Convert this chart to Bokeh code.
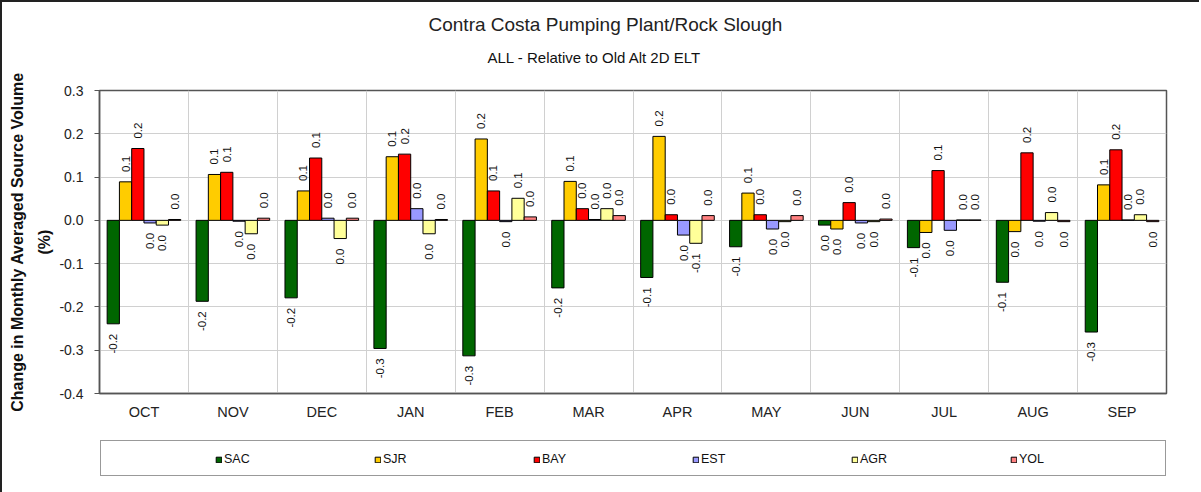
import numpy as np
from bokeh.plotting import figure
from bokeh.layouts import column
from bokeh.models import (ColumnDataSource, FixedTicker, NumeralTickFormatter, Legend,
                          LegendItem, Title, Range1d)
from bokeh.core.properties import value
from bokeh.embed import file_html
from bokeh.resources import INLINE

# ---------------- data ----------------
months = ["OCT", "NOV", "DEC", "JAN", "FEB", "MAR", "APR", "MAY", "JUN", "JUL", "AUG", "SEP"]
series_names = ["SAC", "SJR", "BAY", "EST", "AGR", "YOL"]
sac = [-0.239, -0.187, -0.179, -0.296, -0.313, -0.156, -0.132, -0.061, -0.011, -0.063, -0.143, -0.258]
sjr = [0.089, 0.106, 0.068, 0.147, 0.188, 0.090, 0.194, 0.063, -0.020, -0.028, -0.026, 0.082]
bay = [0.166, 0.111, 0.144, 0.153, 0.068, 0.027, 0.013, 0.013, 0.041, 0.115, 0.156, 0.163]
est = [-0.006, -0.002, 0.005, 0.027, -0.003, 0.002, -0.034, -0.020, -0.006, -0.023, -0.002, 0.001]
agr = [-0.011, -0.031, -0.042, -0.031, 0.051, 0.027, -0.053, -0.003, -0.003, 0.001, 0.018, 0.013]
yol = [0.002, 0.005, 0.005, 0.002, 0.008, 0.011, 0.011, 0.011, 0.003, 0.001, -0.003, -0.003]
y_ticks = [-0.4, -0.3, -0.2, -0.1, 0.0, 0.1, 0.2, 0.3]
title_text = "Contra Costa Pumping Plant/Rock Slough"
subtitle_text = "ALL - Relative to Old Alt 2D ELT"
y_label = "Change in Monthly Averaged Source Volume\n(%)"

# ---------------- style ----------------
colors = ["#006600", "#FFCC00", "#FF0000", "#9999FF", "#FFFF99", "#FF8080"]
FONT = "Liberation Sans"
bar_w = 0.138
label_pad = 0.023

p = figure(width=1199, height=421, x_range=Range1d(0, 12), y_range=Range1d(-0.4, 0.3),
           output_backend="svg", toolbar_location=None,
           min_border_left=97, min_border_right=35, min_border_top=88, min_border_bottom=30)
p.styles = {"border-top": "2px solid #222", "border-left": "2px solid #222"}

# titles: p.title is outermost; later add_layout calls sit further out than earlier ones
p.title.text = title_text
p.title.align = "left"
p.title.offset = 329
p.title.text_font = FONT
p.title.text_font_size = "19px"
p.title.text_font_style = "normal"
p.title.text_color = "#222"
p.title.standoff = 16
spacer = Title(text=" ", align="left", text_font=FONT, text_font_size="15px", standoff=2)
p.add_layout(spacer, "above")
sub_title = Title(text=subtitle_text, align="left", offset=388, text_font=FONT,
                  text_font_size="15px", text_font_style="normal", text_color="#111", standoff=8)
p.add_layout(sub_title, "above")

group_centers = np.arange(len(months)) + 0.5
all_series = [sac, sjr, bay, est, agr, yol]
for k, (name, vals, col) in enumerate(zip(series_names, all_series, colors)):
    vals = np.array(vals, dtype=float)
    xs = group_centers + (k - 2.5) * bar_w
    src = ColumnDataSource(dict(x=xs, top=vals))
    p.vbar(x="x", top="top", bottom=0, width=bar_w, source=src,
           fill_color=col, line_color="#000", line_width=1)
    labels = [f"{abs(v):.1f}" if round(v, 1) == 0 else f"{v:.1f}" for v in vals]
    pos = vals >= 0
    neg = ~pos
    if pos.any():
        s = ColumnDataSource(dict(x=xs[pos], y=vals[pos] + label_pad,
                                  t=[l for l, m in zip(labels, pos) if m]))
        p.text(x="x", y="y", text="t", source=s, angle=np.pi / 2, text_align="left",
               text_baseline="middle", text_font=value(FONT), text_font_size="11.5px",
               text_color="#111")
    if neg.any():
        s = ColumnDataSource(dict(x=xs[neg], y=vals[neg] - label_pad,
                                  t=[l for l, m in zip(labels, neg) if m]))
        p.text(x="x", y="y", text="t", source=s, angle=np.pi / 2, text_align="right",
               text_baseline="middle", text_font=value(FONT), text_font_size="11.5px",
               text_color="#111")

# axes
p.xaxis.ticker = FixedTicker(ticks=list(group_centers))
p.xaxis.major_label_overrides = {float(c): m for c, m in zip(group_centers, months)}
p.xaxis.major_tick_line_color = None
p.xaxis.minor_tick_line_color = None
p.xaxis.major_label_standoff = 4
p.xaxis.major_label_text_font = FONT
p.xaxis.major_label_text_font_size = "14.5px"
p.xaxis.major_label_text_color = "#222"
p.xaxis.axis_line_color = "#555"
p.xaxis.axis_line_width = 1.5

p.yaxis.ticker = FixedTicker(ticks=y_ticks)
p.yaxis.formatter = NumeralTickFormatter(format="0.0")
p.yaxis.major_tick_out = 5
p.yaxis.major_tick_in = 0
p.yaxis.minor_tick_line_color = None
p.yaxis.major_tick_line_color = "#555"
p.yaxis.axis_line_color = "#555"
p.yaxis.axis_line_width = 1.5
p.yaxis.major_label_standoff = 11
p.yaxis.major_label_text_font = FONT
p.yaxis.major_label_text_font_size = "14px"
p.yaxis.major_label_text_color = "#222"
p.yaxis.axis_label = y_label
p.yaxis.axis_label_text_font = FONT
p.yaxis.axis_label_text_font_size = "16px"
p.yaxis.axis_label_text_font_style = "bold"
p.yaxis.axis_label_text_color = "#111"
p.yaxis.axis_label_standoff = 3
p.yaxis.axis_label_text_line_height = 1.6

# grid
p.xgrid.ticker = FixedTicker(ticks=list(range(1, 12)))
p.xgrid.grid_line_color = "#d0d0d0"
p.ygrid.grid_line_color = "#d0d0d0"
p.outline_line_color = "#555"
p.outline_line_width = 1.5

# ---------------- legend strip ----------------
leg = figure(width=1199, height=71, x_range=Range1d(0, 1), y_range=Range1d(0, 1),
             output_backend="svg", toolbar_location=None, title=None,
             x_axis_location=None, y_axis_location=None, min_border=0)
leg.styles = {"border-left": "2px solid #222"}
leg.xgrid.grid_line_color = None
leg.ygrid.grid_line_color = None
leg.grid.visible = False
leg.outline_line_color = None

box_r = leg.vbar(x=[], top=[], width=0.1, fill_alpha=0, line_alpha=0)
box = Legend(items=[LegendItem(label=value(""), renderers=[box_r])], location=(1, 16),
             padding=0, margin=0, spacing=0, glyph_width=1, glyph_height=34,
             label_standoff=0, label_width=1063, label_height=34,
             border_line_color="#333", border_line_width=1.5,
             background_fill_color="white", background_fill_alpha=1)
leg.add_layout(box)

# swatch renderers sit entirely outside the strip's visible ranges; only their legend glyphs show
leg_items = []
for name, col in zip(series_names, colors):
    r = leg.vbar(x=[5.0], top=[-5.0], bottom=-6.0, width=0.1,
                 fill_color=col, line_color="#000", line_width=1)
    leg_items.append(LegendItem(label=name, renderers=[r]))
legend = Legend(items=leg_items, orientation="horizontal", location=(116, 26),
                padding=0, margin=0, spacing=110, glyph_width=7, glyph_height=7,
                label_standoff=2, label_width=40, label_height=14,
                border_line_color=None, background_fill_alpha=0,
                label_text_font=FONT, label_text_font_size="12.5px", label_text_color="#111")
leg.add_layout(legend)

page = column(p, leg, spacing=0)
open("out.html", "w").write(file_html(page, INLINE))
